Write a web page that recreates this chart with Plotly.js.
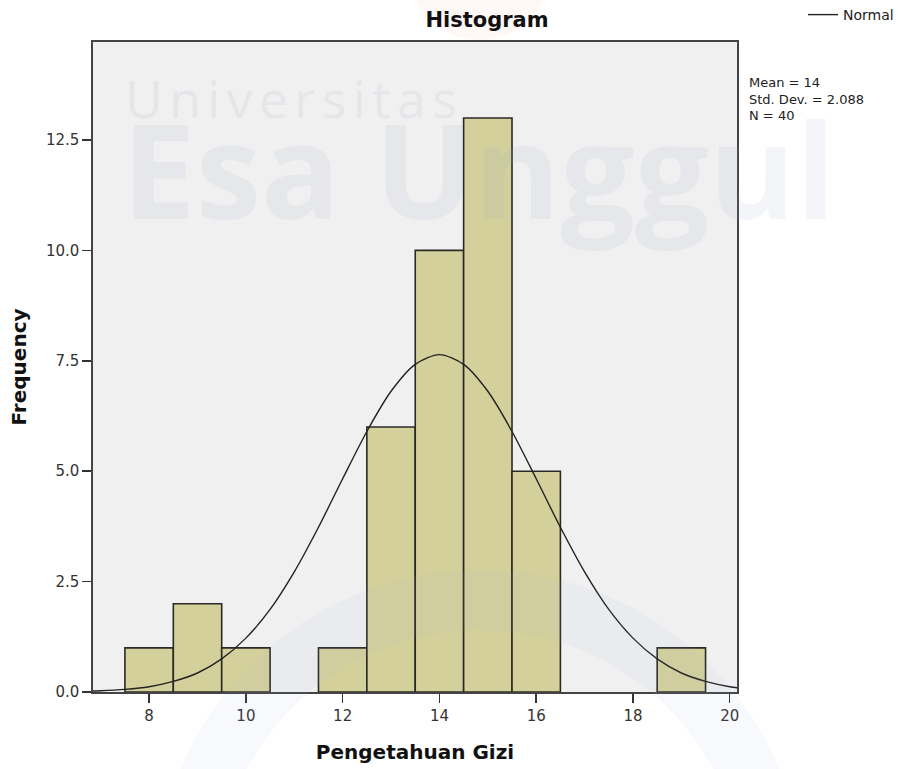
<!DOCTYPE html>
<html>
<head>
<meta charset="utf-8">
<script src="https://cdn.plot.ly/plotly-3.0.1.min.js"></script>
<style>html,body{margin:0;padding:0;background:#fff;}</style>
</head>
<body>
<div id="chart" style="width:899px;height:769px;"></div>
<script>
// Histogram bins (bin centres, width 1) and frequencies
var binCenters = [8, 9, 10, 12, 13, 14, 15, 16, 19];
var frequencies = [1, 2, 1, 1, 6, 10, 13, 5, 1];

// Normal curve (Mean = 14, Std. Dev. = 2.088, N = 40)
var curveX = [6, 6.5, 7, 7.5, 8, 8.5, 9, 9.5, 10, 10.5, 11, 11.5, 12, 12.5, 13, 13.5, 14,
              14.5, 15, 15.5, 16, 16.5, 17, 17.5, 18, 18.5, 19, 19.5, 20, 20.5, 21];
var curveY = [0.005, 0.012, 0.028, 0.06, 0.12, 0.24, 0.43, 0.75, 1.22, 1.87, 2.72, 3.73, 4.83, 5.90, 6.81, 7.42, 7.64,
              7.42, 6.81, 5.90, 4.83, 3.73, 2.72, 1.87, 1.22, 0.75, 0.43, 0.24, 0.12, 0.06, 0.028];

var xTickVals = [8, 10, 12, 14, 16, 18, 20];
var yTickVals = [0, 2.5, 5, 7.5, 10, 12.5];
var yTickText = ['0.0', '2.5', '5.0', '7.5', '10.0', '12.5'];

var statsLines = ['Mean = 14', 'Std. Dev. = 2.088', 'N = 40'];

var FONT = 'DejaVu Sans, Arial, sans-serif';

// pixel helpers for paper coords (plot area 93..737 x, 42..692 y)
var L = 93, T = 42, W = 644, H = 650;
function px(x) { return (x - L) / W; }
function py(y) { return (T + H - y) / H; }

var traces = [
  {
    type: 'bar',
    x: binCenters,
    y: frequencies,
    width: 1,
    marker: { color: '#d4d09b', line: { color: '#2a2a24', width: 1.6 } },
    showlegend: false,
    hoverinfo: 'x+y'
  },
  {
    type: 'scatter',
    mode: 'lines',
    x: curveX,
    y: curveY,
    line: { color: '#222222', width: 1.4, shape: 'spline', smoothing: 0.8 },
    name: 'Normal',
    showlegend: true
  }
];

var sp = '<span style="font-size:24px"> </span>';
var univ = 'Universitas'.split('').join(sp);

var annotations = [
  {
    text: univ, xref: 'paper', yref: 'paper', x: px(123), y: py(97),
    xanchor: 'left', yanchor: 'middle', showarrow: false,
    font: { family: 'Open Sans, sans-serif', size: 52, color: 'rgba(140,150,185,0.10)' }
  },
  {
    text: '<b>Esa Unggul</b>', xref: 'paper', yref: 'paper', x: px(120), y: py(168),
    xanchor: 'left', yanchor: 'middle', showarrow: false,
    font: { family: 'Open Sans, sans-serif', size: 131.5, color: 'rgba(150,165,200,0.11)' }
  }
];
var statY = [83, 99, 115];
for (var i = 0; i < statsLines.length; i++) {
  annotations.push({
    text: statsLines[i], xref: 'paper', yref: 'paper', x: px(747), y: py(statY[i]),
    xanchor: 'left', yanchor: 'middle', showarrow: false,
    font: { family: FONT, size: 13, color: '#222' }
  });
}

var layout = {
  width: 899, height: 769,
  margin: { l: L, r: 899 - L - W, t: T, b: 769 - T - H, autoexpand: false },
  paper_bgcolor: '#ffffff',
  plot_bgcolor: '#f0f0f0',
  bargap: 0,
  font: { family: FONT, color: '#222' },
  title: {
    text: '<b>Histogram</b>',
    x: 487 / 899, xanchor: 'center', xref: 'container',
    y: 1 - 20 / 769, yanchor: 'middle', yref: 'container',
    font: { family: FONT, size: 21, color: '#111' }
  },
  xaxis: {
    range: [6.84, 20.15],
    tickvals: xTickVals,
    ticks: 'outside', ticklen: 9, tickwidth: 1.5, tickcolor: '#333',
    showline: true, linecolor: '#444', linewidth: 1.6, mirror: true,
    showgrid: false, zeroline: false,
    tickfont: { family: FONT, size: 15, color: '#333' },
    title: { text: '<b>Pengetahuan Gizi</b>', font: { family: FONT, size: 20, color: '#111' }, standoff: 21 }
  },
  yaxis: {
    range: [0, 14.72],
    tickvals: yTickVals, ticktext: yTickText,
    ticks: 'outside', ticklen: 9, tickwidth: 1.5, tickcolor: '#333',
    showline: true, linecolor: '#444', linewidth: 1.6, mirror: true,
    showgrid: false, zeroline: false,
    tickfont: { family: FONT, size: 15, color: '#333' },
    title: { text: '<b>Frequency</b>', font: { family: FONT, size: 20, color: '#111' }, standoff: 14 }
  },
  legend: {
    x: px(803), y: py(15), xanchor: 'left', yanchor: 'middle',
    bgcolor: 'rgba(0,0,0,0)', itemwidth: 30,
    font: { family: FONT, size: 14, color: '#222' }
  },
  shapes: [
    {
      type: 'circle', xref: 'paper', yref: 'paper', layer: 'above',
      x0: px(480 - 295), x1: px(480 + 295), y0: py(895 + 295), y1: py(895 - 295),
      line: { color: 'rgba(150,170,210,0.07)', width: 60 }, fillcolor: 'rgba(0,0,0,0)'
    },
    {
      type: 'circle', xref: 'paper', yref: 'paper', layer: 'below',
      x0: px(410), x1: px(550), y0: py(40), y1: py(-100),
      line: { width: 0 }, fillcolor: 'rgba(240,150,120,0.06)'
    }
  ],
  annotations: annotations
};

Plotly.newPlot('chart', traces, layout, { displayModeBar: false, staticPlot: true });
</script>
</body>
</html>
